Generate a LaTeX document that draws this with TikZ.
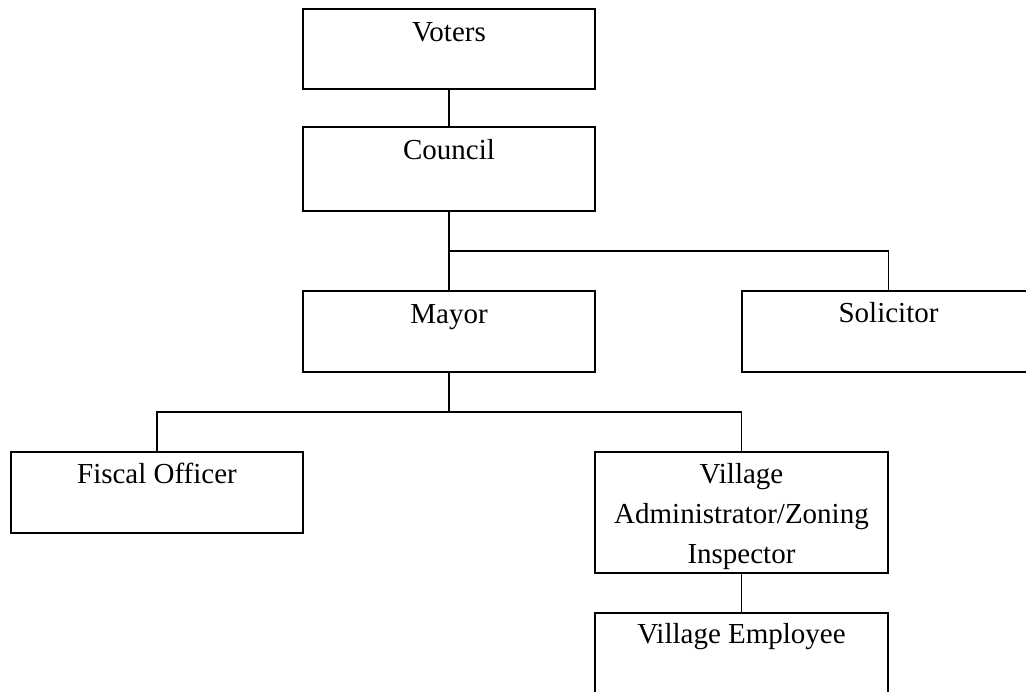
\documentclass[tikz,border=0pt]{standalone}
\usepackage{fontspec}
\setmainfont{Liberation Serif}
\begin{document}
\begin{tikzpicture}[x=1pt,y=-1pt,
  orgbox/.style={draw, line width=1.7pt, minimum width=292pt, inner sep=0pt},
  lbl/.style={anchor=base, inner sep=0pt, font=\fontsize{29}{40}\selectfont, align=center},
  conn/.style={line width=1.7pt}]
\useasboundingbox (0,0) rectangle (1026,692);
\clip (0,0) rectangle (1026,692);
\node[orgbox, minimum height=80pt] (voters) at (449,49) {};
\node[orgbox, minimum height=84pt] (council) at (449,169) {};
\node[orgbox, minimum height=81pt] (mayor) at (449,331.5) {};
\node[orgbox, minimum width=293pt, minimum height=81pt] (solicitor) at (888.5,331.5) {};
\node[orgbox, minimum height=81pt] (fiscal) at (157,492.5) {};
\node[orgbox, minimum width=293pt, minimum height=121pt] (admin) at (741.5,512.5) {};
\node[orgbox, minimum width=293pt, minimum height=100pt] (employee) at (741.5,663) {};
\node[lbl] at ([yshift=-33pt]voters.north) {Voters};
\node[lbl] at ([yshift=-33pt]council.north) {Council};
\node[lbl] at ([yshift=-33pt]mayor.north) {Mayor};
\node[lbl] at ([yshift=-32.5pt]solicitor.north) {Solicitor};
\node[lbl] at ([yshift=-32.5pt]fiscal.north) {Fiscal Officer};
\node[lbl, text width=292pt] at ([yshift=-32.5pt]admin.north) {Village\\Administrator/Zoning\\Inspector};
\node[lbl] at ([yshift=-31pt]employee.north) {Village Employee};
\coordinate (j1) at (449,251);
\coordinate (j2) at (449,412);
\draw[conn] (voters.south) -- (council.north);
\draw[conn] (council.south) -- (mayor.north);
\draw[conn] (j1) -| (solicitor.north);
\draw[conn] (mayor.south) -- (j2);
\draw[conn] (fiscal.north) |- (j2) -| (admin.north);
\draw[conn] (admin.south) -- (employee.north);
\end{tikzpicture}
\end{document}
